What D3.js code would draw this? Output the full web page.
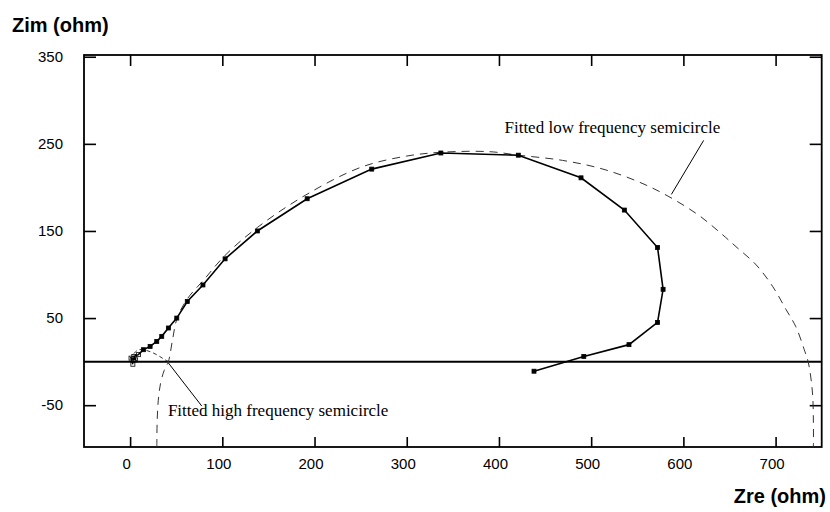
<!DOCTYPE html>
<html>
<head>
<meta charset="utf-8">
<script src="https://cdn.jsdelivr.net/npm/d3@7"></script>
<style>
  body { margin: 0; background: #fff; }
  svg { display: block; }
</style>
</head>
<body>
<script>
// measured impedance (Nyquist), high freq -> low freq
const zre = [3, 1, 6, 4, 9, 14.4, 21.7, 28.9, 34.3, 41.5, 50.6, 62, 79, 103, 138, 192, 262, 337, 421, 489, 536, 572, 578, 572, 541, 492, 438];
const zim = [-3, 4, 2, 6, 8, 13.7, 17.5, 23.2, 29, 38.6, 50, 69, 88, 118, 150, 187, 221, 239.5, 237, 211, 174, 131, 83, 45, 19.5, 6, -11];

// fitted low frequency semicircle
const lowRe = [29, 29.3, 30.5, 33, 37, 41.5, 46, 51, 62, 80, 103, 138, 190, 250, 300, 340, 390, 421, 469, 516, 567, 614, 641, 657, 679, 697, 711.5, 722, 731, 735.6, 740, 741, 741];
const lowIm = [-98, -70, -45, -25, -10, 0, 25, 50, 72, 94, 122, 154, 191, 223, 236, 240.5, 241, 237, 231, 220, 199, 170, 147, 132, 111, 86, 59.5, 40, 14, -1.5, -36, -70, -98];

// fitted high frequency semicircle
const highRe = [1, 4, 9, 17, 25, 32, 38, 42];
const highIm = [2, 9, 13.5, 13, 10, 6, 2, 0];

const xTicks = [0, 100, 200, 300, 400, 500, 600, 700];
const yTicks = [350, 250, 150, 50, -50];

const W = 830, H = 512;
const svg = d3.select('body').append('svg').attr('width', W).attr('height', H);

const x = d3.scaleLinear().domain([-50, 750]).range([84, 821.7]);
const y = d3.scaleLinear().domain([-98, 352]).range([447, 55]);

const font = '"Liberation Sans", Arial, sans-serif';

svg.append('clipPath').attr('id', 'plot')
  .append('rect')
  .attr('x', x(-50)).attr('y', y(352))
  .attr('width', x(750) - x(-50)).attr('height', y(-98) - y(352));

// axes with inward ticks
const fmt = d => String(d);
const axBottom = svg.append('g').attr('transform', `translate(0,${y(-98)})`)
  .call(d3.axisBottom(x).tickValues(xTicks).tickFormat(fmt).tickSizeInner(-10).tickSizeOuter(0).tickPadding(11));
const axTop = svg.append('g').attr('transform', `translate(0,${y(352)})`)
  .call(d3.axisTop(x).tickValues(xTicks).tickSizeInner(-11).tickSizeOuter(0).tickFormat(''));
const axLeft = svg.append('g').attr('transform', `translate(${x(-50)},0)`)
  .call(d3.axisLeft(y).tickValues(yTicks).tickFormat(fmt).tickSizeInner(-12).tickSizeOuter(0).tickPadding(21));
const axRight = svg.append('g').attr('transform', `translate(${x(750)},0)`)
  .call(d3.axisRight(y).tickValues(yTicks).tickSizeInner(-12).tickSizeOuter(0).tickFormat(''));

[axBottom, axTop, axLeft, axRight].forEach(g => {
  g.select('.domain').remove();
  g.selectAll('.tick line').attr('stroke', '#000').attr('stroke-width', 1.6);
  g.selectAll('.tick text').attr('font-family', font).attr('font-size', 15).attr('fill', '#000');
});
axBottom.selectAll('.tick text').attr('dx', -4);

// frame
svg.append('rect')
  .attr('x', x(-50)).attr('y', y(352))
  .attr('width', x(750) - x(-50)).attr('height', y(-98) - y(352))
  .attr('fill', 'none').attr('stroke', '#000').attr('stroke-width', 1.8);

// zero line
svg.append('line')
  .attr('x1', x(-50)).attr('x2', x(750))
  .attr('y1', y(0)).attr('y2', y(0))
  .attr('stroke', '#000').attr('stroke-width', 2);

const plot = svg.append('g').attr('clip-path', 'url(#plot)');

const curve = d3.line().x(d => x(d[0])).y(d => y(d[1])).curve(d3.curveCatmullRom);

plot.append('path')
  .datum(lowRe.map((v, i) => [v, lowIm[i]]))
  .attr('d', curve)
  .attr('fill', 'none').attr('stroke', '#333').attr('stroke-width', 1)
  .attr('stroke-dasharray', '8,6');

plot.append('path')
  .datum(highRe.map((v, i) => [v, highIm[i]]))
  .attr('d', curve)
  .attr('fill', 'none').attr('stroke', '#333').attr('stroke-width', 1)
  .attr('stroke-dasharray', '4,3');

// measured data
const pts = zre.map((v, i) => [v, zim[i]]);
plot.append('path')
  .datum(pts)
  .attr('d', d3.line().x(d => x(d[0])).y(d => y(d[1])))
  .attr('fill', 'none').attr('stroke', '#000').attr('stroke-width', 1.6);

plot.selectAll('rect.pt')
  .data(pts)
  .enter().append('rect')
  .attr('class', 'pt')
  .attr('x', d => x(d[0]) - 2).attr('y', d => y(d[1]) - 2)
  .attr('width', 4).attr('height', 4)
  .attr('fill', (d, i) => i < 5 ? 'none' : '#000')
  .attr('stroke', '#000').attr('stroke-width', 0.8);

// annotations
const serif = '"Liberation Serif", "Times New Roman", serif';
svg.append('line')
  .attr('x1', x(622)).attr('y1', y(254))
  .attr('x2', x(587)).attr('y2', y(192))
  .attr('stroke', '#000').attr('stroke-width', 1);
svg.append('text')
  .attr('x', x(406)).attr('y', y(262))
  .attr('font-family', serif).attr('font-size', 17)
  .text('Fitted low frequency semicircle');

svg.append('line')
  .attr('x1', x(41.5)).attr('y1', y(-1.5))
  .attr('x2', x(77.7)).attr('y2', y(-51))
  .attr('stroke', '#000').attr('stroke-width', 1);
svg.append('text')
  .attr('x', x(41)).attr('y', y(-62))
  .attr('font-family', serif).attr('font-size', 17)
  .text('Fitted high frequency semicircle');

// axis titles
svg.append('text')
  .attr('x', 12).attr('y', 32)
  .attr('font-family', font).attr('font-size', 20).attr('font-weight', 'bold')
  .text('Zim (ohm)');
svg.append('text')
  .attr('x', 826).attr('y', 503)
  .attr('text-anchor', 'end')
  .attr('font-family', font).attr('font-size', 20).attr('font-weight', 'bold')
  .text('Zre (ohm)');
</script>
</body>
</html>
